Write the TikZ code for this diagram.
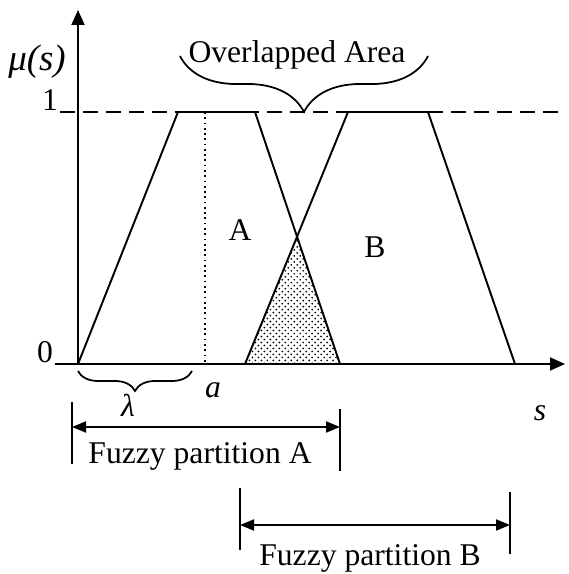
\documentclass[tikz,border=0pt]{standalone}
\usepackage{fontspec}
\setmainfont{Liberation Serif}
\usetikzlibrary{arrows.meta,patterns,decorations.pathreplacing}

\pgfdeclarepatternformonly{thickdots}{\pgfqpoint{-1pt}{-1pt}}{\pgfqpoint{4pt}{4pt}}{\pgfqpoint{3.4pt}{3.4pt}}
{
  \pgfpathcircle{\pgfqpoint{0.85pt}{0.85pt}}{0.55pt}
  \pgfpathcircle{\pgfqpoint{2.55pt}{2.55pt}}{0.55pt}
  \pgfusepath{fill}
}

\begin{document}
\begin{tikzpicture}[x=1cm,y=1cm,>={Triangle[length=0.28cm,width=0.22cm]},line width=1.1pt]
  \tikzstyle{lbl}=[font=\fontsize{18}{20}\selectfont, inner sep=0pt]
  \tikzstyle{memb}=[line join=miter]
  \tikzstyle{bar}=[line width=1pt]
  \tikzstyle{curly}=[decorate, line width=1pt]
  \tikzstyle{axis}=[-{Triangle[length=0.3cm,width=0.26cm]}]

  \useasboundingbox (0,0) rectangle (11.36,11.48);

  % axes and the level 1
  \coordinate (o) at (1.56,4.2);
  \coordinate (ytop) at (1.56,11.28);
  \coordinate (xleft) at (1.1,4.2);
  \coordinate (xend) at (11.3,4.2);
  \coordinate (oneleft) at (1.2,9.24);
  \coordinate (oneright) at (11.3,9.24);

  % membership functions
  \coordinate (a1) at (3.56,9.24);
  \coordinate (a2) at (5.1,9.24);
  \coordinate (a3) at (6.8,4.2);
  \coordinate (b0) at (4.9,4.2);
  \coordinate (b1) at (6.96,9.24);
  \coordinate (b2) at (8.56,9.24);
  \coordinate (b3) at (10.3,4.2);
  \coordinate (cross) at (intersection of a2--a3 and b0--b1);
  \coordinate (dtop) at (4.1,9.24);
  \coordinate (dbot) at (4.1,4.2);

  \fill[pattern=thickdots] (b0) -- (cross) -- (a3) -- cycle;

  \draw[axis] (xleft) -- (xend);
  \draw[axis] (o) -- (ytop);
  \draw[dashed, dash pattern=on 0.3cm off 0.16cm] (oneleft) -- (oneright);
  \draw[memb] (o) -- (a1) -- (a2) -- (a3);
  \draw[memb] (b0) -- (b1) -- (b2) -- (b3);
  \draw[dotted, line width=1pt] (dtop) -- (dbot);

  \node[lbl, anchor=base east] (zero) at (1.08,4.22) {0};
  \node[lbl, anchor=base east] (one) at (1.18,9.26) {1};
  \node[lbl, font=\fontsize{21}{24}\selectfont] (mu) at (0.74,10.24) {\itshape μ(s)};
  \node[lbl] (labA) at (4.8,6.88) {A};
  \node[lbl] (labB) at (7.5,6.54) {B};
  \node[lbl] (svar) at (10.8,3.22) {\itshape s};
  \node[lbl] (aval) at (4.26,3.68) {\itshape a};
  \node[lbl] (lam) at (2.56,3.38) {\itshape λ};

  % braces
  \coordinate (ov1) at (3.6,10.36);
  \coordinate (ov2) at (8.56,10.36);
  \draw[curly, decoration={brace, mirror, amplitude=1.12cm}] (ov1) -- (ov2);
  \node[lbl, anchor=base] (ovtxt) at (5.94,10.22) {Overlapped Area};
  \coordinate (lb1) at (1.56,4.06);
  \coordinate (lb2) at (3.84,4.06);
  \draw[curly, decoration={brace, mirror, amplitude=0.4cm}] (lb1) -- (lb2);

  % fuzzy partitions
  \coordinate (fa1) at (1.44,3.44);
  \coordinate (fa2) at (1.44,2.2);
  \coordinate (fa3) at (6.8,3.3);
  \coordinate (fa4) at (6.8,2.06);
  \coordinate (faL) at (1.44,2.94);
  \coordinate (faR) at (6.8,2.94);
  \draw[bar] (fa1) -- (fa2);
  \draw[bar] (fa3) -- (fa4);
  \draw[<->] (faL) -- (faR);
  \node[lbl, anchor=base] (fatxt) at (4.0,2.2) {Fuzzy partition A};

  \coordinate (fb1) at (4.8,1.72);
  \coordinate (fb2) at (4.8,0.48);
  \coordinate (fb3) at (10.2,1.64);
  \coordinate (fb4) at (10.2,0.4);
  \coordinate (fbL) at (4.8,0.98);
  \coordinate (fbR) at (10.2,0.98);
  \draw[bar] (fb1) -- (fb2);
  \draw[bar] (fb3) -- (fb4);
  \draw[<->] (fbL) -- (fbR);
  \node[lbl, anchor=base] (fbtxt) at (7.4,0.18) {Fuzzy partition B};
\end{tikzpicture}
\end{document}
